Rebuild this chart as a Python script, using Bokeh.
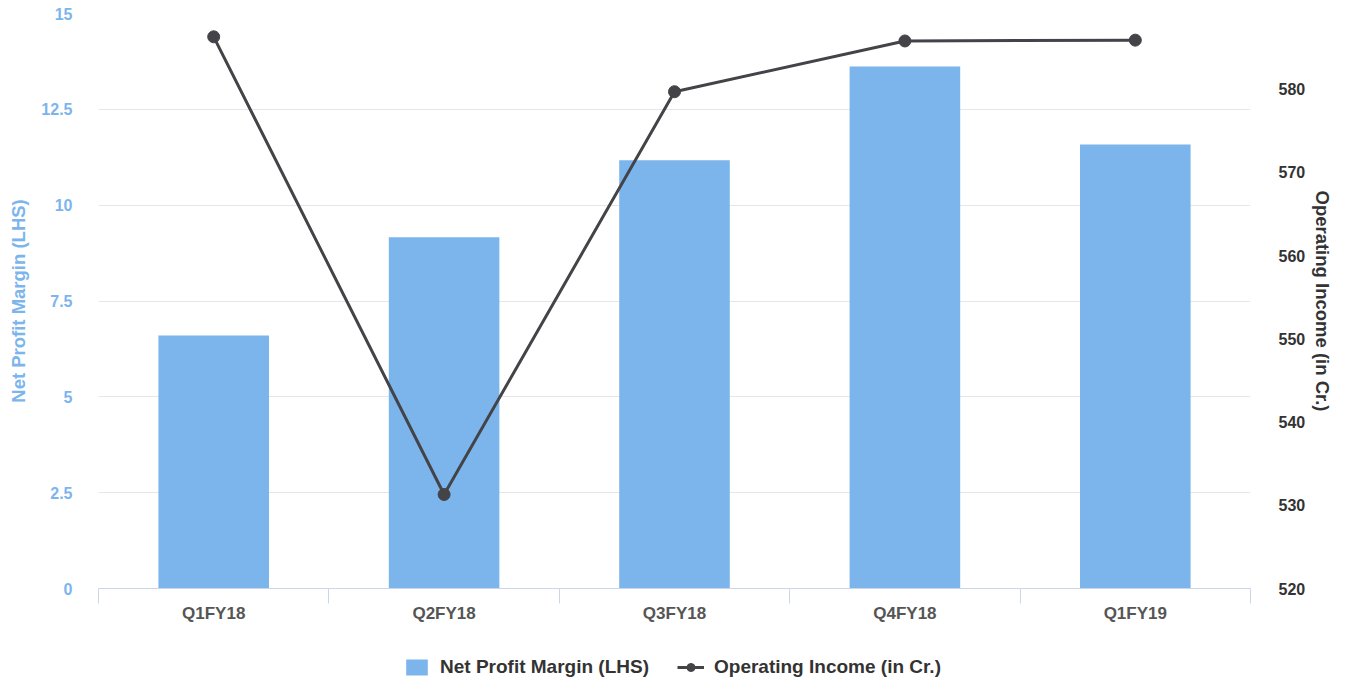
from bokeh.plotting import figure
from bokeh.layouts import column
from bokeh.models import (Range1d, LinearAxis, FixedTicker, CustomJSTickFormatter,
                          Legend, LegendItem)
from bokeh.embed import file_html
from bokeh.resources import INLINE

# ---- data ----
quarters = ["Q1FY18", "Q2FY18", "Q3FY18", "Q4FY18", "Q1FY19"]
net_profit_margin = [6.6, 9.16, 11.17, 13.62, 11.58]
operating_income = [586.3, 531.3, 579.7, 585.8, 585.9]
left_ticks = [0, 2.5, 5, 7.5, 10, 12.5, 15]
right_ticks = [520, 530, 540, 550, 560, 570, 580]
series_names = ["Net Profit Margin (LHS)", "Operating Income (in Cr.)"]

xs = [i + 0.5 for i in range(len(quarters))]
bounds = list(range(len(quarters) + 1))

FONT = "Liberation Sans"
BAR = "#7cb5ec"
LINE = "#434348"

p = figure(output_backend="svg", toolbar_location=None,
           frame_width=1152, frame_height=575,
           min_border_left=98, min_border_right=90,
           min_border_top=13, min_border_bottom=0,
           x_range=Range1d(0, len(quarters)), y_range=Range1d(0, 15),
           background_fill_color="white", border_fill_color="white")
p.outline_line_color = None
p.extra_y_ranges = {"oi": Range1d(520, 589.1)}

p.vbar(x=xs, top=net_profit_margin, width=0.48, bottom=0,
       fill_color=BAR, line_color=None)
p.line(xs, operating_income, y_range_name="oi", line_color=LINE, line_width=3)
p.scatter(xs, operating_income, y_range_name="oi", marker="circle", size=12,
          fill_color=LINE, line_color=LINE)

# x axis
xa = p.xaxis[0]
xa.ticker = FixedTicker(ticks=xs, minor_ticks=bounds)
xa.formatter = CustomJSTickFormatter(args=dict(labels=quarters),
                                     code="return labels[Math.round(tick - 0.5)];")
xa.axis_line_color = "#ccd6eb"
xa.major_tick_line_color = None
xa.major_tick_out = 0
xa.major_tick_in = 0
xa.minor_tick_line_color = "#ccd6eb"
xa.minor_tick_out = 15
xa.minor_tick_in = 0
xa.major_label_standoff = 0
xa.major_label_text_font = FONT
xa.major_label_text_font_style = "bold"
xa.major_label_text_font_size = "17px"
xa.major_label_text_color = "#555555"

# left axis
ya = p.yaxis[0]
ya.ticker = FixedTicker(ticks=left_ticks)
ya.formatter = CustomJSTickFormatter(code="return tick.toString();")
ya.axis_line_color = None
ya.major_tick_line_color = None
ya.minor_tick_line_color = None
ya.major_label_standoff = 20
ya.major_label_text_font = FONT
ya.major_label_text_font_style = "bold"
ya.major_label_text_font_size = "16px"
ya.major_label_text_color = BAR
ya.axis_label = series_names[0]
ya.axis_label_text_font = FONT
ya.axis_label_text_font_style = "bold"
ya.axis_label_text_font_size = "18.5px"
ya.axis_label_text_color = BAR
ya.axis_label_standoff = 9

# right axis
ra = LinearAxis(y_range_name="oi", ticker=FixedTicker(ticks=right_ticks))
ra.axis_line_color = None
ra.major_tick_line_color = None
ra.minor_tick_line_color = None
ra.major_label_standoff = 22
ra.major_label_text_font = FONT
ra.major_label_text_font_style = "bold"
ra.major_label_text_font_size = "16px"
ra.major_label_text_color = "#333333"
ra.axis_label = series_names[1]
ra.axis_label_text_font = FONT
ra.axis_label_text_font_style = "bold"
ra.axis_label_text_font_size = "18.5px"
ra.axis_label_text_color = "#333333"
ra.axis_label_standoff = 4
p.add_layout(ra, "right")

p.xgrid.grid_line_color = None
p.ygrid.grid_line_color = "#e6e6e6"
p.ygrid.ticker = FixedTicker(ticks=left_ticks)

# legend strip below the chart (series renderers kept hidden, used for legend glyphs)
lf = figure(output_backend="svg", toolbar_location=None,
            width=1340, height=56, min_border=0,
            x_range=Range1d(0, len(quarters)), y_range=Range1d(0, 15),
            x_axis_type=None, y_axis_type=None,
            background_fill_color="white", border_fill_color="white")
lf.outline_line_color = None
lf.xgrid.grid_line_color = None
lf.ygrid.grid_line_color = None
lf.extra_y_ranges = {"oi": Range1d(520, 589.1)}
lb = lf.vbar(x=xs, top=net_profit_margin, width=0.48, bottom=0,
             fill_color=BAR, line_color=None, visible=False)
ll = lf.line(xs, operating_income, y_range_name="oi", line_color=LINE, line_width=3,
             visible=False)
ls = lf.scatter(xs, operating_income, y_range_name="oi", marker="circle", size=12,
                fill_color=LINE, line_color=LINE, visible=False)

legend = Legend(items=[LegendItem(label=series_names[0], renderers=[lb]),
                       LegendItem(label=series_names[1], renderers=[ll, ls])],
                orientation="horizontal", location=(305, 3),
                padding=0, margin=0, spacing=28, label_standoff=10,
                glyph_width=27, glyph_height=20,
                border_line_alpha=0, background_fill_alpha=0,
                inactive_fill_alpha=0, click_policy="none",
                label_text_font=FONT, label_text_font_style="bold",
                label_text_font_size="19px", label_text_color="#333333")
lf.add_layout(legend, "center")

layout = column(p, lf)
open("out.html", "w").write(file_html(layout, INLINE))
